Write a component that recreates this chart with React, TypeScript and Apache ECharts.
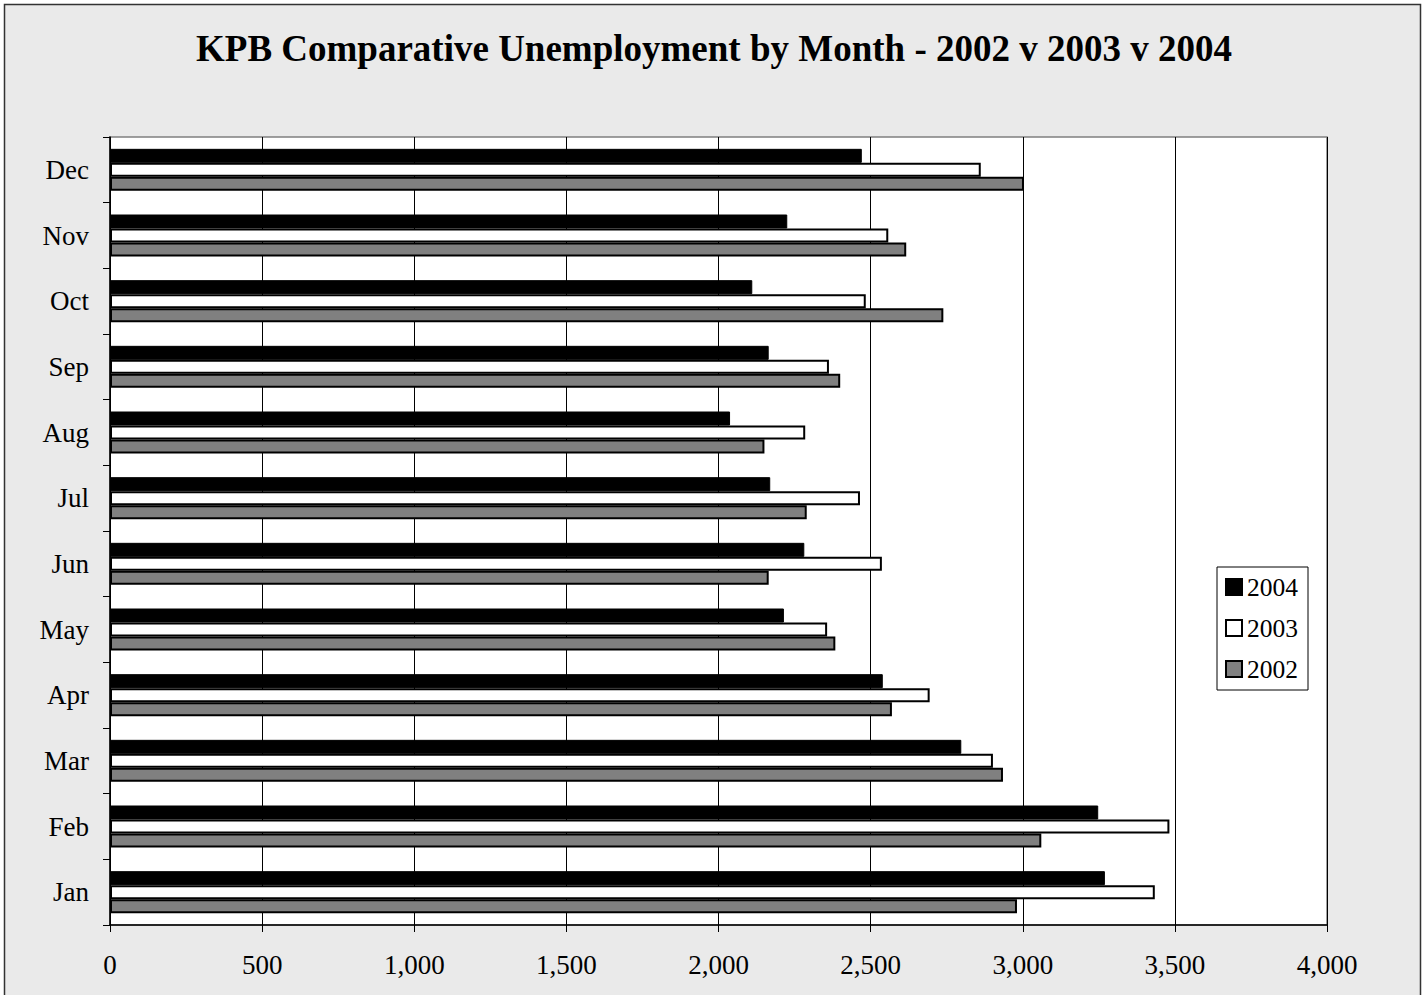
import React, { useEffect, useRef } from "react";
import * as echarts from "echarts";

const months = ["Jan", "Feb", "Mar", "Apr", "May", "Jun", "Jul", "Aug", "Sep", "Oct", "Nov", "Dec"];
const v2004 = [3270, 3248, 2798, 2540, 2215, 2282, 2170, 2038, 2165, 2111, 2226, 2471];
const v2003 = [3434, 3482, 2902, 2694, 2357, 2537, 2465, 2285, 2363, 2484, 2558, 2862];
const v2002 = [2981, 3061, 2935, 2570, 2384, 2165, 2290, 2151, 2400, 2739, 2617, 3004];
const xTicks = { min: 0, max: 4000, interval: 500 };
const titleText = "KPB Comparative Unemployment by Month - 2002 v 2003 v 2004";

const FONT = "'Liberation Serif', 'Times New Roman', serif";

export default function App() {
  const ref = useRef<HTMLDivElement>(null);
  useEffect(() => {
    document.body.style.margin = "0";
    const chart = echarts.init(ref.current!, undefined, { renderer: "svg" });
    const barBase = { type: "bar" as const, barGap: "0%", barWidth: 14 };
    chart.setOption({
      animation: false,
      backgroundColor: "#fff",
      textStyle: { fontFamily: FONT },
      graphic: [
        {
          type: "rect",
          shape: { x: 4.5, y: 4.5, width: 1416, height: 1000 },
          style: { fill: "#eaeaea", stroke: "#333", lineWidth: 1.5 },
          z: -10,
          silent: true,
        },
      ],
      title: {
        text: titleText,
        left: "center",
        top: 25,
        textStyle: { fontFamily: FONT, fontWeight: "bold", fontSize: 37, color: "#000" },
      },
      legend: {
        orient: "vertical",
        left: 1217,
        top: 567,
        data: ["2004", "2003", "2002"],
        icon: "rect",
        itemWidth: 16,
        itemHeight: 16,
        itemGap: 15,
        padding: [7, 10, 8, 8],
        backgroundColor: "#fff",
        borderColor: "#000",
        borderWidth: 1,
        borderRadius: 0,
        textStyle: { fontFamily: FONT, fontSize: 25.5, color: "#000", padding: [0, 0, 0, 0] },
      },
      grid: {
        left: 110,
        right: 101,
        top: 137,
        bottom: 70,
        show: true,
        backgroundColor: "#fff",
        borderColor: "#808080",
        borderWidth: 1.5,
      },
      xAxis: {
        type: "value",
        min: xTicks.min,
        max: xTicks.max,
        interval: xTicks.interval,
        axisLine: { show: true, lineStyle: { color: "#000", width: 1.5 } },
        axisTick: { show: true, length: 7, lineStyle: { color: "#000" } },
        splitLine: { show: true, lineStyle: { color: "#000", width: 1 } },
        axisLabel: {
          fontFamily: FONT,
          fontSize: 27,
          color: "#000",
          margin: 26,
          formatter: (v: number) => v.toLocaleString("en-US"),
        },
      },
      yAxis: {
        type: "category",
        data: months,
        axisLine: { show: true, lineStyle: { color: "#000", width: 1.5 } },
        axisTick: { show: true, length: 7, lineStyle: { color: "#000" } },
        splitLine: { show: false },
        axisLabel: { fontFamily: FONT, fontSize: 27, color: "#000", margin: 21 },
      },
      series: [
        { ...barBase, name: "2004", data: v2004, itemStyle: { color: "#000", borderColor: "#000", borderWidth: 1 } },
        { ...barBase, name: "2003", data: v2003, itemStyle: { color: "#fff", borderColor: "#000", borderWidth: 2 } },
        { ...barBase, name: "2002", data: v2002, itemStyle: { color: "#808080", borderColor: "#000", borderWidth: 2 } },
      ],
    });
    return () => chart.dispose();
  }, []);
  return <div ref={ref} style={{ width: 1428, height: 995 }} />;
}
